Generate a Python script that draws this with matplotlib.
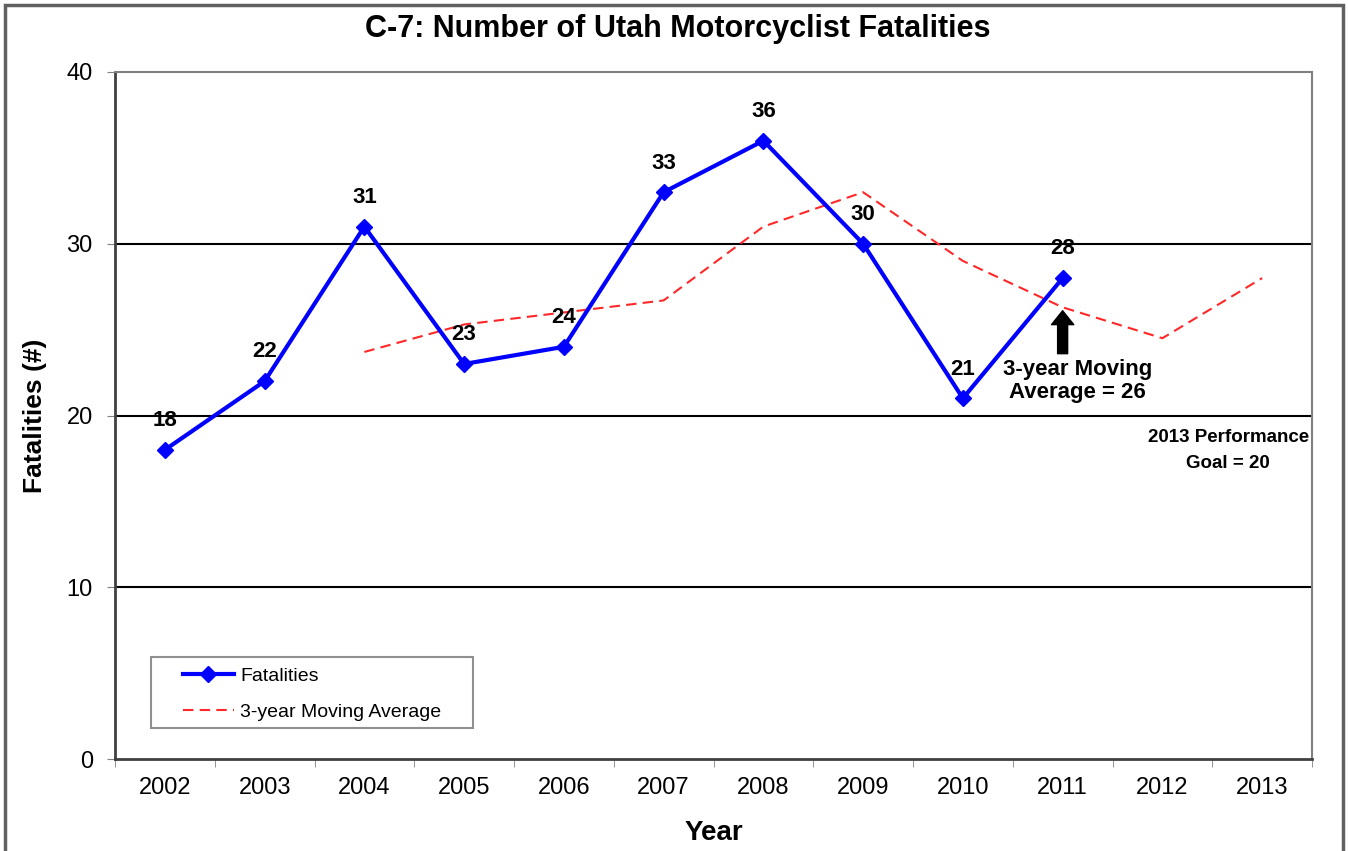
import matplotlib.pyplot as plt
import matplotlib.patches as patches
import numpy as np

plt.rcParams['font.family'] = ['Liberation Sans', 'DejaVu Sans']

years = ['2002', '2003', '2004', '2005', '2006', '2007', '2008', '2009',
         '2010', '2011', '2012', '2013']
fatalities = [18, 22, 31, 23, 24, 33, 36, 30, 21, 28]
moving_avg = [None, None, 23.7, 25.3, 26.0, 26.7, 31.0, 33.0, 29.0, 26.3, 24.5, 28.0]

W, H = 1348, 851
fig = plt.figure(figsize=(W / 100, H / 100), dpi=100)
ax = fig.add_axes([115 / W, 1 - 759 / H, (1312 - 115) / W, (759 - 72) / H])

# outer frame of the figure
fig.patches.append(patches.Rectangle((5 / W, -0.05), (1343 - 5) / W, 1.05 - 5 / H,
                                     transform=fig.transFigure, fill=False,
                                     edgecolor='#606060', linewidth=2.5))

x = np.arange(len(years))
xf = x[:len(fatalities)]
ma_x = [i for i, v in enumerate(moving_avg) if v is not None]
ma_y = [v for v in moving_avg if v is not None]

# horizontal gridlines
for gy in [10, 20, 30]:
    ax.axhline(gy, color='black', linewidth=1.5, zorder=1)

l_fat, = ax.plot(xf, fatalities, color='#0000FF', linewidth=3, marker='D', markersize=8,
                 label='Fatalities', zorder=3)
l_ma, = ax.plot(ma_x, ma_y, color='#FF2828', linestyle=(0, (5, 3)), linewidth=1.5,
                label='3-year Moving Average', zorder=2)

for xi, v in zip(xf, fatalities):
    ax.annotate(str(v), (xi, v), textcoords='offset points', xytext=(0, 21),
                ha='center', va='center', fontsize=16, fontweight='bold')

ax.set_xlim(-0.5, len(years) - 0.5)
ax.set_ylim(0, 40)
ax.set_yticks([0, 10, 20, 30, 40])
ax.tick_params(axis='y', labelsize=17, length=6, color='#808080', pad=10)
ax.set_xticks(x)
ax.set_xticklabels(years)
ax.set_xticks(np.arange(-0.5, len(years)), minor=True)
ax.tick_params(axis='x', which='major', length=0, labelsize=17, pad=13)
ax.tick_params(axis='x', which='minor', length=6, color='#808080')

for side in ['top', 'right']:
    ax.spines[side].set_color('#808080')
    ax.spines[side].set_linewidth(1.5)
for side in ['left', 'bottom']:
    ax.spines[side].set_color('#404040')
    ax.spines[side].set_linewidth(2)

ax.set_xlabel('Year', fontsize=20, fontweight='bold', labelpad=15)
ax.set_ylabel('Fatalities (#)', fontsize=19, fontweight='bold', labelpad=14)
fig.text(0.5 * (358 + 997) / W, 1 - 29 / H, 'C-7: Number of Utah Motorcyclist Fatalities',
         ha='center', va='center', fontsize=22, fontweight='bold')

# arrow and annotations
ax.annotate('', xy=(9, 26.1), xytext=(9, 23.6),
            arrowprops=dict(arrowstyle='simple,head_width=1.6,head_length=1.0,tail_width=0.72',
                            color='black', shrinkA=0, shrinkB=0))
ax.text(9.15, 22.0, '3-year Moving\nAverage = 26', ha='center', va='center',
        fontsize=16, fontweight='bold', linespacing=1.15)
ax.text(10.66, 17.95, '2013 Performance\nGoal = 20', ha='center', va='center',
        fontsize=13.5, fontweight='bold', linespacing=1.7)

# legend box drawn separately so the padding matches
ax.add_patch(patches.Rectangle(((151 - 115) / 1197, (759 - 728) / 687),
                               (473 - 151) / 1197, (728 - 657) / 687,
                               transform=ax.transAxes, fill=True, facecolor='white',
                               edgecolor='#909090', linewidth=1.5, zorder=4))
leg = ax.legend(handles=[l_fat, l_ma], loc='upper left',
                bbox_to_anchor=((183 - 115) / 1197, (759 - 667) / 687),
                fontsize=14, frameon=False, borderpad=0, borderaxespad=0,
                handlelength=2.6, handletextpad=0.35, labelspacing=0.95)
leg.set_zorder(5)

fig.savefig('out.png', dpi=100)
